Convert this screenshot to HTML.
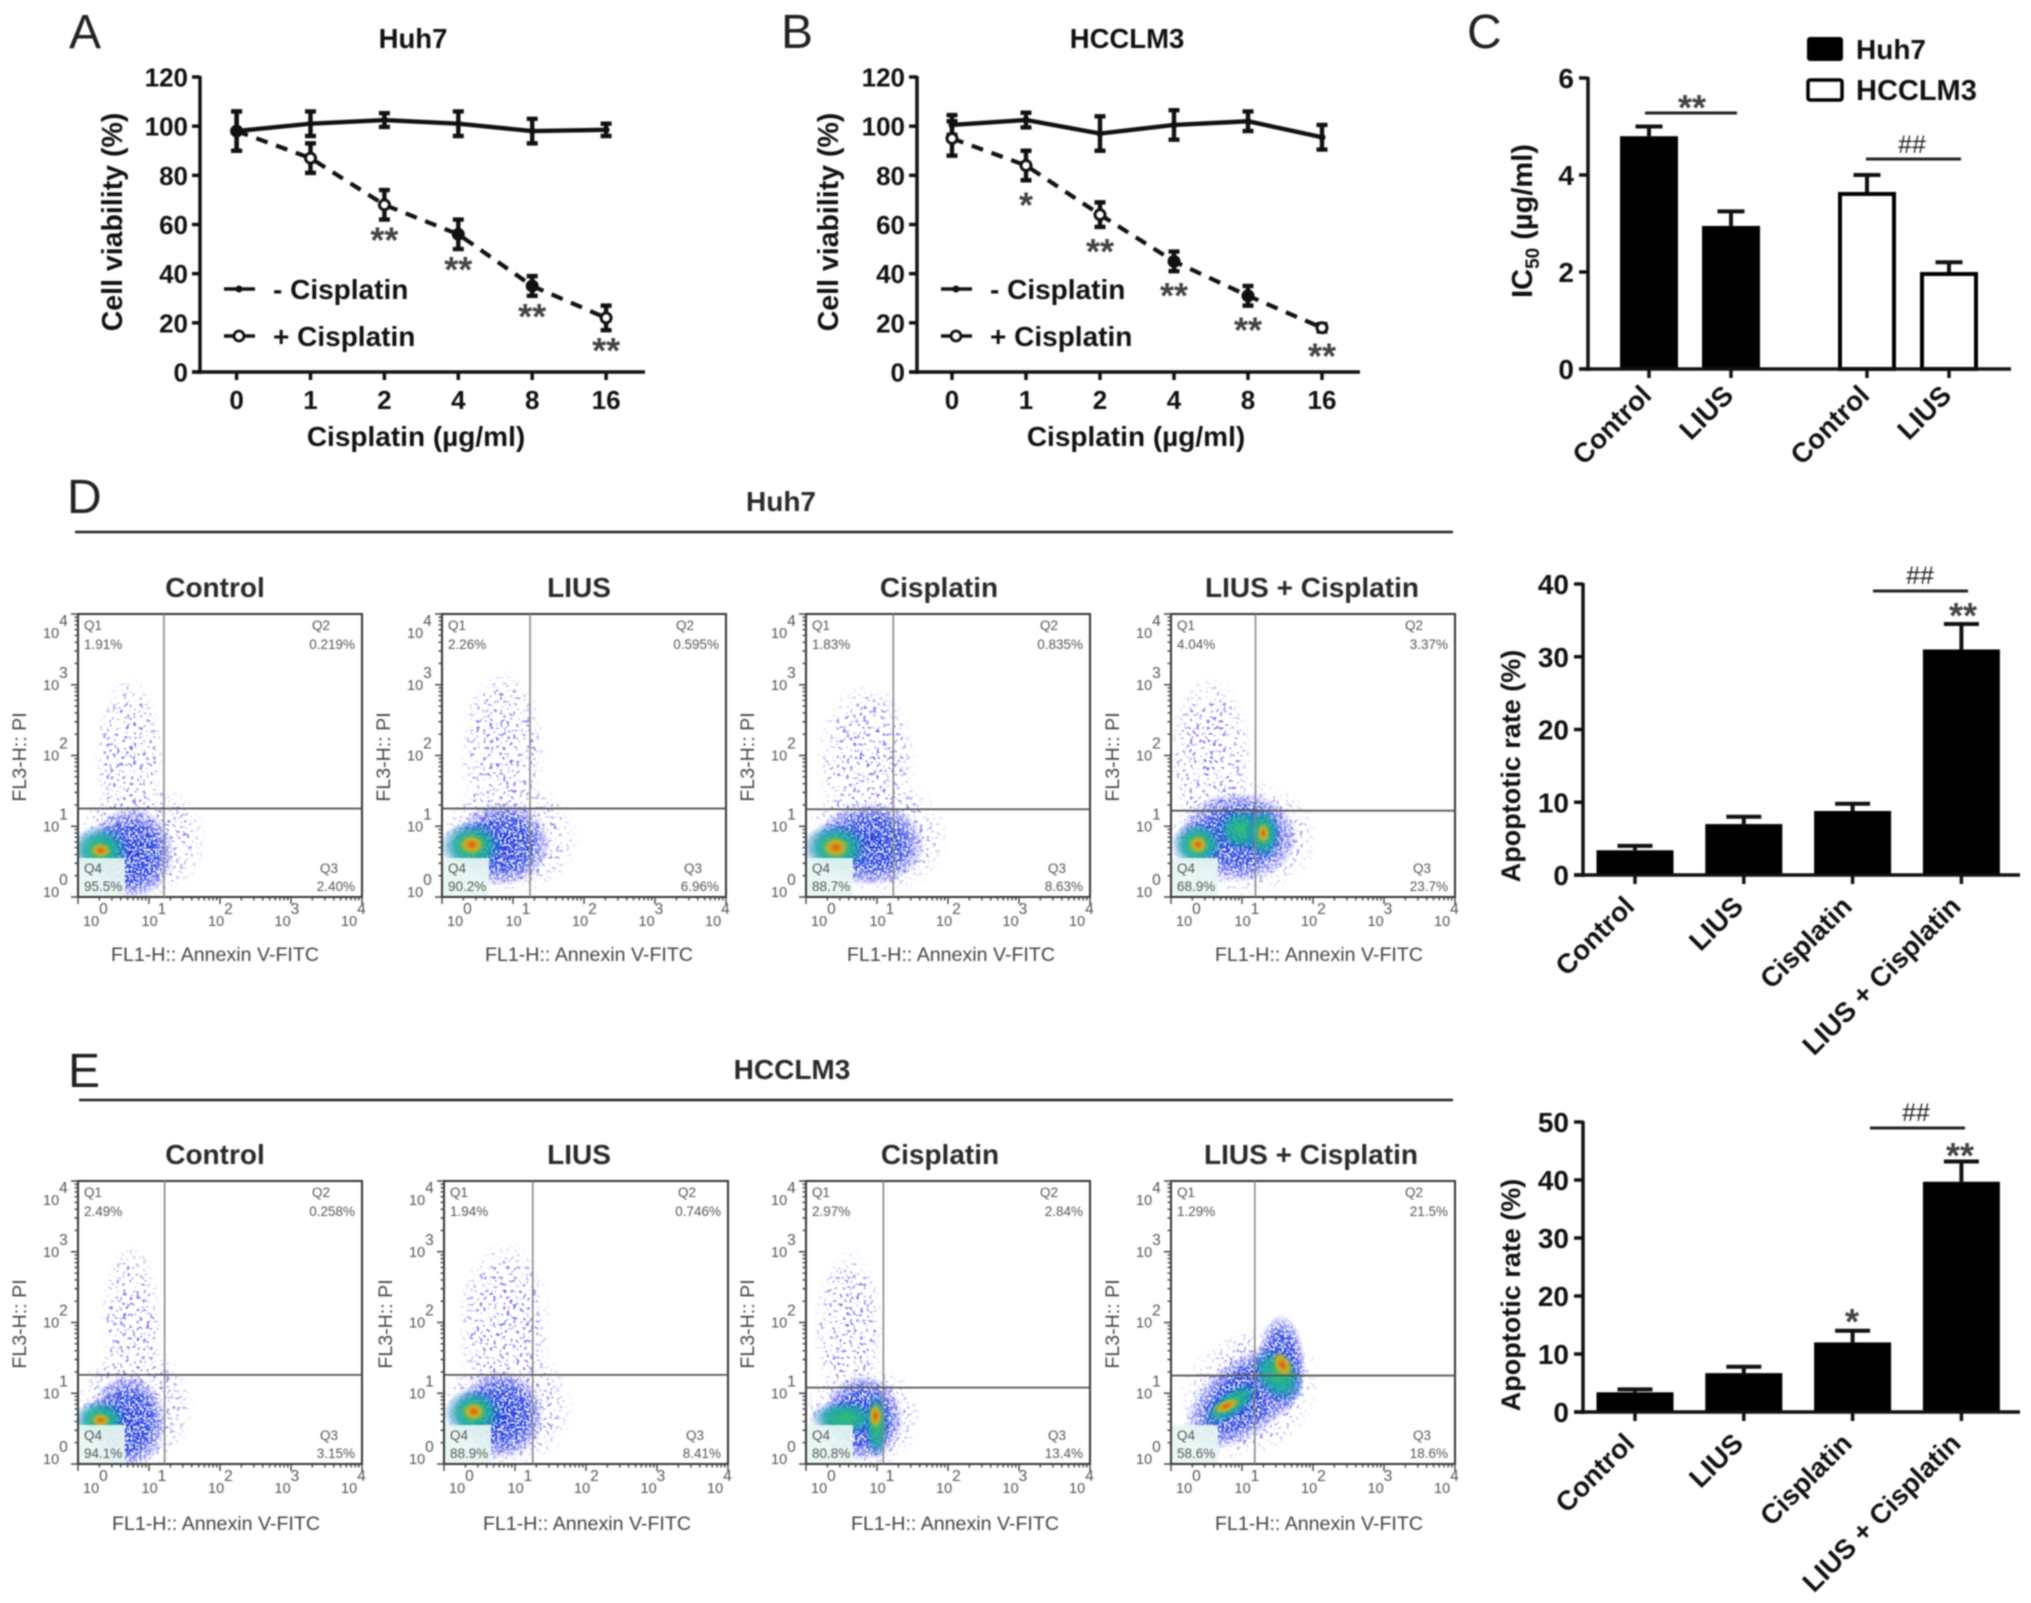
<!DOCTYPE html>
<html lang="en">
<head>
<meta charset="utf-8">
<title>LIUS and cisplatin figure</title>
<style>
html,body{margin:0;padding:0;background:#fff;width:2031px;height:1603px;overflow:hidden}
svg{display:block;filter:blur(.7px)}
text{font-family:"Liberation Sans",sans-serif}
.b{font-weight:bold;fill:#111}
.letter{font-size:48px;fill:#222}
.sig{font-weight:bold;font-size:36px;fill:#444;text-anchor:middle}
.hash{font-size:25px;fill:#222;text-anchor:middle}
.flow{font-size:19.6px;fill:#444}
.title{font-weight:bold;font-size:28px;fill:#2a2a2a;text-anchor:middle}
</style>
</head>
<body>
<svg id="fig" xmlns="http://www.w3.org/2000/svg" width="2031" height="1603" viewBox="0 0 2031 1603">
<defs>
<radialGradient id="lvl0"><stop offset="0" stop-color="#6a64ea" stop-opacity="1"/><stop offset=".7" stop-color="#7f78ee" stop-opacity=".85"/><stop offset="1" stop-color="#a8a0f5" stop-opacity="0"/></radialGradient>
<radialGradient id="lvl1"><stop offset="0" stop-color="#1030d8" stop-opacity="1"/><stop offset=".6" stop-color="#2a45e0" stop-opacity=".95"/><stop offset=".85" stop-color="#6a6cf0" stop-opacity=".6"/><stop offset="1" stop-color="#9a90f5" stop-opacity="0"/></radialGradient>
<radialGradient id="lvl2"><stop offset="0" stop-color="#30c070" stop-opacity="1"/><stop offset=".55" stop-color="#18a8a0" stop-opacity=".85"/><stop offset="1" stop-color="#1060d0" stop-opacity="0"/></radialGradient>
<radialGradient id="lvl3"><stop offset="0" stop-color="#e05a10" stop-opacity="1"/><stop offset=".5" stop-color="#d8b020" stop-opacity=".9"/><stop offset="1" stop-color="#60c040" stop-opacity="0"/></radialGradient>
<filter id="speckle-sparse" x="-10%" y="-10%" width="120%" height="120%">
<feTurbulence type="fractalNoise" baseFrequency="0.3" numOctaves="2" seed="7" result="n"/>
<feColorMatrix in="n" type="matrix" values="0 0 0 0 0 0 0 0 0 0 0 0 0 0 0 14 0 0 0 -8.4" result="m"/>
<feComposite in="SourceGraphic" in2="m" operator="in"/>
</filter>
<filter id="speckle-dense" x="-10%" y="-10%" width="120%" height="120%">
<feTurbulence type="fractalNoise" baseFrequency="0.45" numOctaves="2" seed="3" result="n"/>
<feColorMatrix in="n" type="matrix" values="0 0 0 0 0 0 0 0 0 0 0 0 0 0 0 8 0 0 0 -3.2" result="m"/>
<feComposite in="SourceGraphic" in2="m" operator="in"/>
</filter>
</defs>
<rect x="0" y="0" width="2031" height="1603" fill="#fff"/>

<text class="letter" x="69" y="48">A</text>
<text class="letter" x="781" y="48">B</text>
<text class="letter" x="1467" y="48">C</text>
<text class="letter" x="67" y="513">D</text>
<text class="letter" x="68" y="1087">E</text>

<text class="b" x="413" y="48" font-size="27.5" text-anchor="middle">Huh7</text>
<text class="b" x="1127" y="48" font-size="27.5" text-anchor="middle">HCCLM3</text>

<g>
<rect x="1808" y="38" width="34" height="22" rx="2" fill="#000" stroke="#000" stroke-width="2"/>
<text class="b" x="1856" y="59" font-size="28">Huh7</text>
<rect x="1808" y="80" width="34" height="20" rx="2" fill="#fff" stroke="#000" stroke-width="3.5"/>
<text class="b" x="1856" y="100" font-size="29">HCCLM3</text>
</g>

<text class="title" x="781" y="511">Huh7</text>
<line x1="75" y1="532" x2="1453" y2="532" stroke="#222" stroke-width="2.5"/>
<text class="title" x="792" y="1079">HCCLM3</text>
<line x1="79" y1="1100" x2="1453" y2="1100" stroke="#222" stroke-width="2.5"/>

<g id="charts"></g>
</svg>

<script>
/* Panels A and B: viability line charts */
const doseLabels = ['0', '1', '2', '4', '8', '16'];
const viabilityTicks = [0, 20, 40, 60, 80, 100, 120];
const huh7Minus = [98, 101, 102.5, 101, 98, 98.5];
const huh7MinusErr = [8, 5, 2.8, 5, 5, 2.5];
const huh7Plus = [98, 87, 68, 56, 35, 22];
const huh7PlusErr = [8, 6, 6, 6, 4, 5];
const huh7PlusFilled = [1, 0, 0, 1, 1, 0];
const huh7PlusStars = ['', '', '**', '**', '**', '**'];
const hccMinus = [100.5, 102.5, 97, 100.5, 102, 95.5];
const hccMinusErr = [4, 3, 7, 6, 4, 5];
const hccPlus = [95, 84, 64, 45, 31, 18];
const hccPlusErr = [7, 6, 5, 4, 4, 1.5];
const hccPlusFilled = [0, 0, 0, 1, 1, 0];
const hccPlusStars = ['', '*', '**', '**', '**', '**'];

/* Panel C: IC50 bars */
const ic50Categories = ['Control', 'LIUS', 'Control', 'LIUS'];
const ic50Values = [4.8, 2.95, 3.65, 2.0];
const ic50Err = [0.2, 0.3, 0.35, 0.2];
const ic50Ticks = [0, 2, 4, 6];

/* Panels D and E: apoptosis bars */
const apoCategories = ['Control', 'LIUS', 'Cisplatin', 'LIUS + Cisplatin'];
const apoHuh7Values = [3.4, 7, 8.8, 31];
const apoHuh7Err = [0.6, 1, 1, 3.5];
const apoHuh7Ticks = [0, 10, 20, 30, 40];
const apoHccValues = [3.4, 6.7, 12, 39.7];
const apoHccErr = [0.5, 1.1, 2, 3.5];
const apoHccTicks = [0, 10, 20, 30, 40, 50];

/* Flow plots: quadrant read-outs */
const flowTitles = ['Control', 'LIUS', 'Cisplatin', 'LIUS + Cisplatin'];
const huh7Q1 = ['1.91%', '2.26%', '1.83%', '4.04%'];
const huh7Q2 = ['0.219%', '0.595%', '0.835%', '3.37%'];
const huh7Q3 = ['2.40%', '6.96%', '8.63%', '23.7%'];
const huh7Q4 = ['95.5%', '90.2%', '88.7%', '68.9%'];
const hccQ1 = ['2.49%', '1.94%', '2.97%', '1.29%'];
const hccQ2 = ['0.258%', '0.746%', '2.84%', '21.5%'];
const hccQ3 = ['3.15%', '8.41%', '13.4%', '18.6%'];
const hccQ4 = ['94.1%', '88.9%', '80.8%', '58.6%'];
/* Gates, in log10 decades */
const huh7GateX = [1.21, 1.24, 1.23, 1.19];
const huh7GateY = [1.25, 1.25, 1.24, 1.22];
const hccGateX = [1.22, 1.25, 1.09, 1.18];
const hccGateY = [1.26, 1.26, 1.08, 1.25];
/* Population density regions: [log10 x, log10 y, sd-x, sd-y, tilt deg, density level] */
const popHuh7Control = [[0.72,2.0,0.5,1.15,0,0],[0.9,0.8,0.95,0.85,0,0],[0.75,0.62,0.62,0.66,0,1],[0.32,0.66,0.42,0.36,0,2],[0.32,0.66,0.17,0.12,0,3]];
const popHuh7Lius = [[0.85,2.05,0.62,1.2,0,0],[0.95,0.85,1.0,0.85,0,0],[0.85,0.75,0.68,0.6,0,1],[0.42,0.72,0.45,0.36,0,2],[0.42,0.74,0.2,0.16,0,3]];
const popHuh7Cis = [[0.85,1.95,0.72,1.1,0,0],[1.0,0.85,1.05,0.85,0,0],[0.9,0.75,0.78,0.6,0,1],[0.42,0.7,0.48,0.36,0,2],[0.42,0.7,0.21,0.17,0,3]];
const popHuh7Combo = [[0.55,2.0,0.6,1.15,0,0],[1.0,0.85,1.1,0.85,0,0],[0.95,0.85,0.85,0.65,0,1],[0.38,0.74,0.38,0.34,0,2],[1.0,0.95,0.38,0.32,0,2],[1.3,0.9,0.26,0.38,0,2],[0.38,0.74,0.15,0.15,0,3],[1.3,0.9,0.1,0.16,0,3]];
const popHccControl = [[0.75,2.0,0.45,1.15,0,0],[0.8,0.8,0.85,0.9,0,0],[0.7,0.6,0.55,0.68,0,1],[0.32,0.62,0.38,0.3,0,2],[0.32,0.62,0.15,0.11,0,3]];
const popHccLius = [[0.85,2.0,0.68,1.2,0,0],[0.9,0.8,0.95,0.9,0,0],[0.8,0.7,0.62,0.64,0,1],[0.42,0.72,0.42,0.36,0,2],[0.42,0.74,0.18,0.15,0,3]];
const popHccCis = [[0.6,1.9,0.5,1.15,0,0],[0.8,0.65,0.85,0.8,0,0],[0.8,0.65,0.58,0.62,0,1],[0.55,0.65,0.5,0.26,0,2],[1.0,0.55,0.18,0.48,0,2],[0.98,0.68,0.11,0.2,0,3]];
const popHccCombo = [[1.1,1.0,1.1,0.9,38,0],[1.05,0.95,1.02,0.55,38,1],[1.55,1.4,0.34,0.72,0,1],[0.85,0.85,0.5,0.2,35,2],[1.5,1.25,0.32,0.44,42,2],[0.78,0.82,0.22,0.1,25,3],[1.57,1.4,0.14,0.22,30,3]];
const huh7Pops = [popHuh7Control, popHuh7Lius, popHuh7Cis, popHuh7Combo];
const hccPops = [popHccControl, popHccLius, popHccCis, popHccCombo];

const NS = 'http://www.w3.org/2000/svg';
const root = document.getElementById('charts');
function mk(tag, attrs, parent, text) {
  const el = document.createElementNS(NS, tag);
  for (const k in attrs) el.setAttribute(k, attrs[k]);
  if (text !== undefined) el.textContent = text;
  (parent || root).appendChild(el);
  return el;
}

function drawLineChart(c) {
  const g = mk('g', {});
  
  
  const x = i => c.x0 + i * c.dx;
  const y = v => c.y0 - v * (c.y0 - c.yTop) / 120;

  const yAxis = mk('line', {x1: c.axisX, x2: c.axisX, y1: c.yTop - 1, y2: c.y0 + 2, stroke: '#111', 'stroke-width': 3.5}, g);
  
  
  const xAxis = mk('line', {x1: c.axisX - 8, x2: c.axisEnd, y1: c.y0, y2: c.y0, stroke: '#111', 'stroke-width': 3.5}, g);
  
  

  viabilityTicks.forEach(t => {
    const tick = mk('line', {x1: c.axisX - 8, x2: c.axisX, y1: y(t), y2: y(t), stroke: '#111', 'stroke-width': 3.5}, g);
    
    
    const lab = mk('text', {x: c.axisX - 12, y: y(t) + 9.5, 'font-size': 26, 'text-anchor': 'end', class: 'b'}, g, String(t));
    
    
  });
  doseLabels.forEach((t, i) => {
    const tick = mk('line', {x1: x(i), x2: x(i), y1: c.y0, y2: c.y0 + 8, stroke: '#111', 'stroke-width': 3.5}, g);
    
    
    const lab = mk('text', {x: x(i), y: c.y0 + 37, 'font-size': 26, 'text-anchor': 'middle', class: 'b'}, g, t);
    
    
  });

  const yTitle = mk('text', {transform: 'translate(' + c.yTitleX + ' 222) rotate(-90)', 'font-size': 28.5, 'text-anchor': 'middle', class: 'b'}, g, 'Cell viability (%)');
  
  
  const xTitle = mk('text', {x: c.xTitleX, y: 446, 'font-size': 28, 'text-anchor': 'middle', class: 'b'}, g, 'Cisplatin (µg/ml)');
  
  

  const plusLine = mk('polyline', {points: c.plus.map((v, i) => x(i) + ',' + y(v)).join(' '), fill: 'none', stroke: '#111', 'stroke-width': 4.2, 'stroke-dasharray': '12 9'}, g);
  
  
  const minusLine = mk('polyline', {points: c.minus.map((v, i) => x(i) + ',' + y(v)).join(' '), fill: 'none', stroke: '#111', 'stroke-width': 4.4}, g);
  
  

  c.minus.forEach((v, i) => {
    const e = c.minusErr[i];
    const err = mk('path', {d: 'M' + (x(i) - 5.5) + ' ' + y(v + e) + 'h11M' + x(i) + ' ' + y(v + e) + 'V' + y(v - e) + 'M' + (x(i) - 5.5) + ' ' + y(v - e) + 'h11', stroke: '#111', 'stroke-width': 4.4, fill: 'none'}, g);
    
    
    const dot = mk('circle', {cx: x(i), cy: y(v), r: 3.5, fill: '#111'}, g);
    
    
  });
  c.plus.forEach((v, i) => {
    const e = c.plusErr[i];
    const err = mk('path', {d: 'M' + (x(i) - 5.5) + ' ' + y(v + e) + 'h11M' + x(i) + ' ' + y(v + e) + 'V' + y(v - e) + 'M' + (x(i) - 5.5) + ' ' + y(v - e) + 'h11', stroke: '#111', 'stroke-width': 4.4, fill: 'none'}, g);
    
    
    const dot = mk('circle', {cx: x(i), cy: y(v), r: 5, fill: c.filled[i] ? '#111' : '#fff', stroke: '#111', 'stroke-width': 3}, g);
    
    
    if (c.stars[i]) {
      const star = mk('text', {x: x(i), y: y(v - e) + c.starGap, class: 'sig'}, g, c.stars[i]);
      
      
    }
  });

  const lx = c.axisX + 24;
  const l1 = mk('line', {x1: lx, x2: lx + 31, y1: 289, y2: 289, stroke: '#111', 'stroke-width': 3.5}, g);
  
  
  const d1 = mk('circle', {cx: lx + 15, cy: 289, r: 3.5, fill: '#111'}, g);
  
  
  const t1 = mk('text', {x: lx + 49, y: 299, 'font-size': 28, class: 'b'}, g, '- Cisplatin');
  
  
  const l2 = mk('line', {x1: lx, x2: lx + 31, y1: 336, y2: 336, stroke: '#111', 'stroke-width': 3.5}, g);
  
  
  const d2 = mk('circle', {cx: lx + 15, cy: 336, r: 5, fill: '#fff', stroke: '#111', 'stroke-width': 2.8}, g);
  
  
  const t2 = mk('text', {x: lx + 49, y: 346, 'font-size': 28, class: 'b'}, g, '+ Cisplatin');
  
  
}

drawLineChart({name: 'viability-chart-huh7', axisX: 200, axisEnd: 645, x0: 236.6, dx: 73.9, y0: 372, yTop: 77, yTitleX: 122, xTitleX: 416, starGap: 33,
  minus: huh7Minus, minusErr: huh7MinusErr, plus: huh7Plus, plusErr: huh7PlusErr, filled: huh7PlusFilled, stars: huh7PlusStars});
drawLineChart({name: 'viability-chart-hcclm3', axisX: 917, axisEnd: 1360, x0: 952, dx: 74, y0: 372, yTop: 77, yTitleX: 838, xTitleX: 1136, starGap: 37,
  minus: hccMinus, minusErr: hccMinusErr, plus: hccPlus, plusErr: hccPlusErr, filled: hccPlusFilled, stars: hccPlusStars});

function drawBarChart(c) {
  const g = mk('g', {});
  
  
  const top = c.ticks[c.ticks.length - 1];
  const y = v => c.y0 - v * (c.y0 - c.yTop) / top;

  const yAxis = mk('line', {x1: c.axisX, x2: c.axisX, y1: c.yTop - 1, y2: c.y0 + 2, stroke: '#111', 'stroke-width': 3.5}, g);
  
  
  c.ticks.forEach(t => {
    const tick = mk('line', {x1: c.axisX - 9, x2: c.axisX, y1: y(t), y2: y(t), stroke: '#111', 'stroke-width': 3.5}, g);
    
    
    const lab = mk('text', {x: c.axisX - 14, y: y(t) + 10, 'font-size': 28, 'text-anchor': 'end', class: 'b'}, g, String(t));
    
    
  });

  c.categories.forEach((label, i) => {
    const cx = c.xAt(i);
    const v = c.values[i];
    const e = c.err[i];
    const err = mk('path', {d: 'M' + cx + ' ' + y(v) + 'V' + y(v + e) + 'm' + (-c.cap / 2) + ' 0h' + c.cap, stroke: '#111', 'stroke-width': 4, fill: 'none'}, g);
    
    
    const open = c.open && c.open(i);
    const inset = open ? 2 : 0;
    const bar = mk('rect', {x: cx - c.barW / 2 + inset, y: y(v) + inset, width: c.barW - 2 * inset, height: y(0) - y(v) - inset, fill: open ? '#fff' : '#000', stroke: open ? '#000' : 'none', 'stroke-width': open ? 4 : 0}, g);
    
    
    const tick = mk('line', {x1: cx, x2: cx, y1: c.y0, y2: c.y0 + 9, stroke: '#111', 'stroke-width': 3.5}, g);
    
    
    const lab = mk('text', {transform: 'translate(' + (cx + c.labelDx) + ' ' + (c.y0 + c.labelDy) + ') rotate(-45)', 'font-size': c.labelSize, 'text-anchor': 'end', class: 'b'}, g, label);
    
    
  });
  const xAxis = mk('line', {x1: c.axisX - 9, x2: c.axisEnd, y1: c.y0, y2: c.y0, stroke: '#111', 'stroke-width': 3.5}, g);
  
  
  return g;
}

drawBarChart({name: 'ic50-chart', short: 'ic50', categories: ic50Categories, values: ic50Values, err: ic50Err, ticks: ic50Ticks,
  axisX: 1588, axisEnd: 2011, y0: 369, yTop: 78, barW: 58, cap: 27, labelDx: 4, labelDy: 28, labelSize: 27.5,
  xAt: i => 1649 + i * 82 + (i > 1 ? 54 : 0), open: i => i > 1});
drawBarChart({name: 'apoptosis-chart-huh7', short: 'huh7', categories: apoCategories, values: apoHuh7Values, err: apoHuh7Err, ticks: apoHuh7Ticks,
  axisX: 1583, axisEnd: 2020, y0: 875, yTop: 584, barW: 77, cap: 35, labelDx: 1, labelDy: 33, labelSize: 27.5,
  xAt: i => 1635 + i * 108.8});
drawBarChart({name: 'apoptosis-chart-hcclm3', short: 'hcc', categories: apoCategories, values: apoHccValues, err: apoHccErr, ticks: apoHccTicks,
  axisX: 1583, axisEnd: 2020, y0: 1412, yTop: 1122, barW: 77, cap: 35, labelDx: 1, labelDy: 33, labelSize: 27.5,
  xAt: i => 1635 + i * 108.8});

function flowPlot(p) {
  const g = mk('g', {});
  
  
  const L = p.left, T = p.top, W = 284, H = 283, R = L + W, B = T + H;
  const fx = d => L + d / 4 * W;
  const fy = d => B - d / 4 * H;
  const clipId = 'clip-' + p.name;
  const clip = mk('clipPath', {id: clipId}, g);
  mk('rect', {x: L, y: T, width: W, height: H}, clip);

  const cloud = mk('g', {'clip-path': 'url(#' + clipId + ')'}, g);
  
  
  const filters = ['url(#speckle-sparse)', 'url(#speckle-dense)', 'none', 'none'];
  [0, 1, 2, 3].forEach(level => {
    const layer = mk('g', {filter: filters[level]}, cloud);
    
    
    p.pops.filter(r => r[5] === level).forEach(r => {
      const e = mk('ellipse', {cx: 0, cy: 0, rx: r[2] / 4 * W, ry: r[3] / 4 * H, fill: 'url(#lvl' + level + ')',
        transform: 'translate(' + fx(r[0]) + ' ' + fy(r[1]) + ') rotate(' + (-r[4]) + ')'}, layer);
      
      
    });
  });

  const q4box = mk('rect', {x: L, y: B - 39, width: 47, height: 39, fill: '#e6f6f2', 'fill-opacity': .92}, g);
  
  
  const frame = mk('rect', {x: L, y: T, width: W, height: H, fill: 'none', stroke: '#333', 'stroke-width': 2}, g);
  
  
  const vGate = mk('line', {x1: fx(p.gateX), x2: fx(p.gateX), y1: T, y2: B, stroke: '#888', 'stroke-width': 1.6}, g);
  
  
  const hGate = mk('line', {x1: L, x2: R, y1: fy(p.gateY), y2: fy(p.gateY), stroke: '#555', 'stroke-width': 1.8}, g);
  
  

  let ticks = '';
  for (let d = 0; d <= 4; d++) {
    ticks += 'M' + fx(d) + ' ' + B + 'v7M' + L + ' ' + fy(d) + 'h-7';
    if (d < 4) for (let m = 2; m < 10; m++) {
      const o = d + Math.log10(m);
      ticks += 'M' + fx(o) + ' ' + B + 'v3.5M' + L + ' ' + fy(o) + 'h-3.5';
    }
  }
  const tk = mk('path', {d: ticks, stroke: '#444', 'stroke-width': 1.4, fill: 'none'}, g);
  
  

  for (let d = 0; d <= 4; d++) {
    const xl = mk('text', {x: d === 0 ? L + 5 : L + d * 66.5 - 3, y: B + 29, 'font-size': 14.5, fill: '#555'}, g);
    
    
    const xb = mk('tspan', {}, xl, '10');
    const xe = mk('tspan', {dy: -12, 'font-size': 15.5}, xl, String(d));
    const yl = mk('text', {x: L - 35, y: d === 0 ? B : d === 4 ? T + 24 : fy(d) + 5, 'font-size': 14.5, fill: '#555'}, g);
    
    
    const yb = mk('tspan', {}, yl, '10');
    const ye = mk('tspan', {dy: -12, 'font-size': 15.5}, yl, String(d));
  }

  const q = [
    ['Q1', L + 6, T + 16, p.q1, L + 6, T + 35, 'start'],
    ['Q2', R - 50, T + 16, p.q2, R - 7, T + 35, 'end'],
    ['Q4', L + 6, B - 24, p.q4, L + 6, B - 6, 'start'],
    ['Q3', R - 42, B - 24, p.q3, R - 7, B - 6, 'end']
  ];
  q.forEach(row => {
    const a = mk('text', {x: row[1], y: row[2], 'font-size': 13.5, fill: '#555'}, g, row[0]);
    
    
    const b = mk('text', {x: row[4], y: row[5], 'font-size': 13.5, fill: '#555', 'text-anchor': row[6]}, g, row[3]);
    
    
  });

  const title = mk('text', {x: p.titleX, y: T - 17, class: 'title'}, g, p.title);
  
  
  const xt = mk('text', {x: p.xtX, y: B + p.xtGap, class: 'flow', 'text-anchor': 'middle'}, g, 'FL1-H:: Annexin V-FITC');
  
  
  const yt = mk('text', {transform: 'translate(' + (L - 52) + ' ' + (T + 143) + ') rotate(-90)', class: 'flow', 'text-anchor': 'middle'}, g, 'FL3-H:: PI');
  
  
}

function flowRow(prefix, top, xtGap, lefts, titleXs, xtXs, q1, q2, q3, q4, gx, gy, pops) {
  flowTitles.forEach((title, i) => {
    flowPlot({name: prefix + '-' + title.toLowerCase().replace(/[^a-z]+/g, '-'), left: lefts[i], top: top, title: title, xtGap: xtGap,
      titleX: titleXs[i], xtX: xtXs[i], q1: q1[i], q2: q2[i], q3: q3[i], q4: q4[i], gateX: gx[i], gateY: gy[i], pops: pops[i]});
  });
}
flowRow('flow-huh7', 614, 64, [78, 442, 806, 1171], [215, 579, 939, 1312], [215, 589, 951, 1319],
  huh7Q1, huh7Q2, huh7Q3, huh7Q4, huh7GateX, huh7GateY, huh7Pops);
flowRow('flow-hcclm3', 1181, 66, [78, 444, 806, 1171], [215, 579, 940, 1311], [216, 587, 955, 1319],
  hccQ1, hccQ2, hccQ3, hccQ4, hccGateX, hccGateY, hccPops);

/* Significance annotations and the IC50 / apoptosis axis titles */
const svgRoot = document.getElementById('charts');
const ic50Title = mk('text', {transform: 'translate(1532 221) rotate(-90)', 'font-size': 29, 'text-anchor': 'middle', class: 'b'}, svgRoot);


mk('tspan', {}, ic50Title, 'IC');
mk('tspan', {dy: 7, 'font-size': 19}, ic50Title, '50');
mk('tspan', {dy: -7}, ic50Title, ' (µg/ml)');

const apoTitle1 = mk('text', {transform: 'translate(1520 766) rotate(-90)', 'font-size': 27, 'text-anchor': 'middle', class: 'b'}, svgRoot, 'Apoptotic rate (%)');


const apoTitle2 = mk('text', {transform: 'translate(1520 1295) rotate(-90)', 'font-size': 27, 'text-anchor': 'middle', class: 'b'}, svgRoot, 'Apoptotic rate (%)');



function bracket(x1, x2, y) {
  const l = mk('line', {x1: x1, x2: x2, y1: y, y2: y, stroke: '#222', 'stroke-width': 3}, svgRoot);
  
  
}
function stars(x, cy, s) {
  const t = mk('text', {x: x, y: cy + 20, class: 'sig'}, svgRoot, s);
  
  
}
function hashes(x, cy) {
  const t = mk('text', {x: x, y: cy + 9, class: 'hash'}, svgRoot, '##');
  
  
}
bracket(1645, 1737, 113); stars(1692, 100, '**');
bracket(1866, 1961, 159); hashes(1912, 144);
bracket(1873, 1968, 591); hashes(1920, 575); stars(1963, 608, '**');
bracket(1870, 1965, 1128); hashes(1916, 1112); stars(1960, 1148, '**'); stars(1852, 1314, '*');
</script>
</body>
</html>
